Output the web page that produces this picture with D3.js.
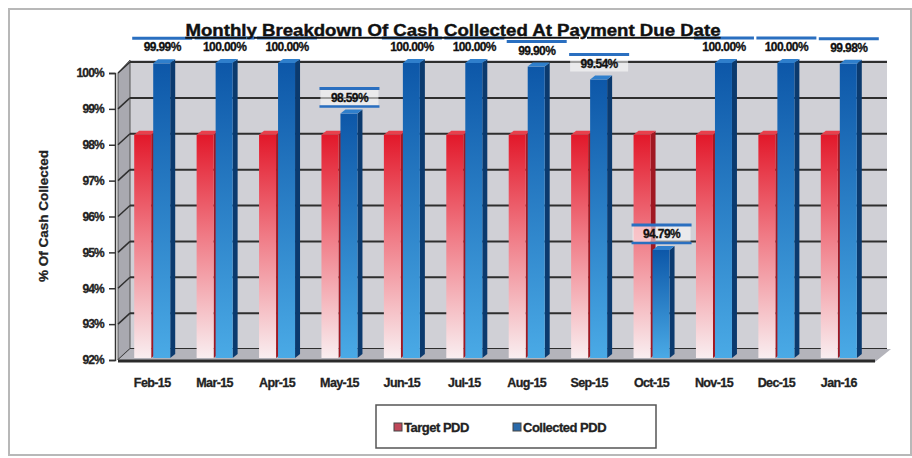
<!DOCTYPE html>
<html><head><meta charset="utf-8">
<script src="https://cdn.jsdelivr.net/npm/d3@7"></script>
<style>body{margin:0;background:#fff}svg{display:block}text{font-family:"Liberation Sans",Arial,sans-serif}</style>
</head><body>
<svg id="c" width="912" height="458"></svg>
<script>
const months = ["Feb-15","Mar-15","Apr-15","May-15","Jun-15","Jul-15","Aug-15","Sep-15","Oct-15","Nov-15","Dec-15","Jan-16"];
const target = [98,98,98,98,98,98,98,98,98,98,98,98];
const collected = [99.99,100.00,100.00,98.59,100.00,100.00,99.90,99.54,94.79,100.00,100.00,99.98];
const collectedLabels = ["99.99%","100.00%","100.00%","98.59%","100.00%","100.00%","99.90%","99.54%","94.79%","100.00%","100.00%","99.98%"];
const yTicks = [92,93,94,95,96,97,98,99,100];
const seriesNames = ["Target PDD","Collected PDD"];
const title = "Monthly Breakdown Of Cash Collected At Payment Due Date";
const yTitle = "% Of Cash Collected";

const svg = d3.select("#c");
const defs = svg.append("defs");
const rg = defs.append("linearGradient").attr("id","rg").attr("x1",0).attr("y1",0).attr("x2",0).attr("y2",1);
rg.append("stop").attr("offset","0%").attr("stop-color","#e2182a");
rg.append("stop").attr("offset","45%").attr("stop-color","#f07a85");
rg.append("stop").attr("offset","100%").attr("stop-color","#f9eef0");
const bg = defs.append("linearGradient").attr("id","bg").attr("x1",0).attr("y1",0).attr("x2",0).attr("y2",1);
bg.append("stop").attr("offset","0%").attr("stop-color","#0d57a8");
bg.append("stop").attr("offset","100%").attr("stop-color","#4aaae6");

// frame
svg.append("rect").attr("x",9).attr("y",9).attr("width",902).attr("height",446).attr("fill","none").attr("stroke","#b8b8b8").attr("stroke-width",2);

const x = d3.scaleBand().domain(months).range([121,870]).padding(0);
const y = d3.scaleLinear().domain([92,100]).range([360,73]);
const dx = 12, dy = -11;   // 3D depth offset of back wall
const bdy = -10;           // bar vertical offset
const x0 = 118, x1 = 875;

// back wall
svg.append("rect").attr("x",x0+dx).attr("y",y(100)+dy-2).attr("width",x1-x0).attr("height",y(92)-y(100)+2).attr("fill","#d0d0d6");
// left side wall
svg.append("path").attr("d",`M${x0},${y(100)} L${x0+dx},${y(100)+dy-2} L${x0+dx},${y(92)+dy} L${x0},${y(92)} Z`).attr("fill","#a9a9b0").attr("stroke","#555").attr("stroke-width",1);
// gridlines
yTicks.forEach(t=>{
  svg.append("line").attr("x1",x0+dx).attr("x2",x1+dx).attr("y1",y(t)+dy).attr("y2",y(t)+dy).attr("stroke","#2e2e2e").attr("stroke-width",2);
  svg.append("line").attr("x1",x0).attr("x2",x0+dx).attr("y1",y(t)).attr("y2",y(t)+dy).attr("stroke","#2e2e2e").attr("stroke-width",1.5);
});
// floor
svg.append("path").attr("d",`M${x0},${y(92)} L${x0+dx},${y(92)+dy} L${x1+dx+4},${y(92)+dy} L${x1},${y(92)+2} Z`).attr("fill","#b4b4bb");
svg.append("line").attr("x1",x0).attr("x2",x1).attr("y1",y(92)+1).attr("y2",y(92)+1).attr("stroke","#2a2a2a").attr("stroke-width",3);

// bars
const bw = 17, sd = 5, st = 4;
function bar(g, xl, v, fill, side, topc){
  const top = y(v)+bdy, bot = y(92)+bdy+8;
  g.append("path").attr("d",`M${xl+bw},${top} L${xl+bw+sd},${top-st} L${xl+bw+sd},${bot-st} L${xl+bw},${bot} Z`).attr("fill",side);
  g.append("rect").attr("x",xl).attr("y",top).attr("width",bw).attr("height",bot-top).attr("fill",fill);
  g.append("path").attr("d",`M${xl},${top} L${xl+sd},${top-st} L${xl+bw+sd},${top-st} L${xl+bw},${top} Z`).attr("fill",topc);
}
const gb = svg.append("g");
months.forEach((m,i)=>{
  const c = x(m)+x.bandwidth()/2;
  bar(gb, c-18, target[i], "url(#rg)", "#a01822", "#e8404c");
  bar(gb, c+1, collected[i], "url(#bg)", "#0b3a6e", "#2f7fcc");
});

// data labels
const gl = svg.append("g");
months.forEach((m,i)=>{
  const c = x(m)+x.bandwidth()/2 + 10;
  const by = y(collected[i])+bdy-12;
  gl.append("rect").attr("x",c-29).attr("y",by-12).attr("width",58).attr("height",16).attr("fill","#ffffff").attr("opacity",0.55);
  gl.append("line").attr("x1",c-30).attr("x2",c+30).attr("y1",by-13).attr("y2",by-13).attr("stroke","#2a6fc0").attr("stroke-width",3);
  if (collected[i] < 99.5)
    gl.append("line").attr("x1",c-30).attr("x2",c+30).attr("y1",by+5).attr("y2",by+5).attr("stroke","#2a6fc0").attr("stroke-width",2.5);
  gl.append("text").attr("x",c).attr("y",by).attr("text-anchor","middle").attr("font-size",12).attr("font-weight","bold").attr("fill","#111")
    .attr("stroke","#111").attr("stroke-width",0.3).attr("letter-spacing",-0.6).text(collectedLabels[i]);
});

// y axis
const ax = svg.append("g").attr("transform",`translate(${x0-3},0)`)
  .call(d3.axisLeft(y).tickValues(yTicks).tickFormat(d=>d+"%").tickSize(6).tickPadding(5));
ax.select(".domain").attr("stroke","#333").attr("stroke-width",1.5);
ax.selectAll(".tick line").attr("stroke","#333").attr("stroke-width",1.5);
ax.selectAll("text").attr("font-size",12).attr("font-weight","bold").attr("fill","#222").attr("stroke","#222").attr("stroke-width",0.3).attr("letter-spacing",-0.8).style("font-family","'Liberation Sans',Arial,sans-serif");

// x labels
const xa = svg.append("g").attr("transform",`translate(0,${y(92)+4})`).call(d3.axisBottom(x).tickSize(0).tickPadding(14));
xa.select(".domain").remove();
xa.selectAll("text").attr("font-size",12.5).attr("font-weight","bold").attr("fill","#222").attr("stroke","#222").attr("stroke-width",0.3).attr("letter-spacing",-0.6).style("font-family","'Liberation Sans',Arial,sans-serif");

// title
svg.append("text").attr("x",453).attr("y",36).attr("text-anchor","middle").attr("font-size",16).attr("font-weight","bold").attr("fill","#111").attr("stroke","#111").attr("stroke-width",0.4)
  .attr("text-decoration","underline").attr("textLength",535).attr("lengthAdjust","spacingAndGlyphs").text(title);

// y title
svg.append("text").attr("transform","translate(48,216) rotate(-90)").attr("text-anchor","middle").attr("font-size",13.5).attr("font-weight","bold").attr("fill","#222").attr("stroke","#222").attr("stroke-width",0.3).text(yTitle);

// legend
const lg = svg.append("g");
lg.append("rect").attr("x",376).attr("y",405).attr("width",280).attr("height",43).attr("fill","#fff").attr("stroke","#555").attr("stroke-width",1.5);
const lx = [394,513], lc = ["#c0485a","#2a6aaa"];
seriesNames.forEach((s,i)=>{
  lg.append("rect").attr("x",lx[i]).attr("y",423).attr("width",8).attr("height",8).attr("fill",lc[i]).attr("stroke","#444").attr("stroke-width",1);
  lg.append("text").attr("x",lx[i]+10).attr("y",432).attr("font-size",13).attr("font-weight","bold").attr("fill","#222").attr("stroke","#222").attr("stroke-width",0.3).attr("letter-spacing",-0.5).text(s);
});
</script>
</body></html>
